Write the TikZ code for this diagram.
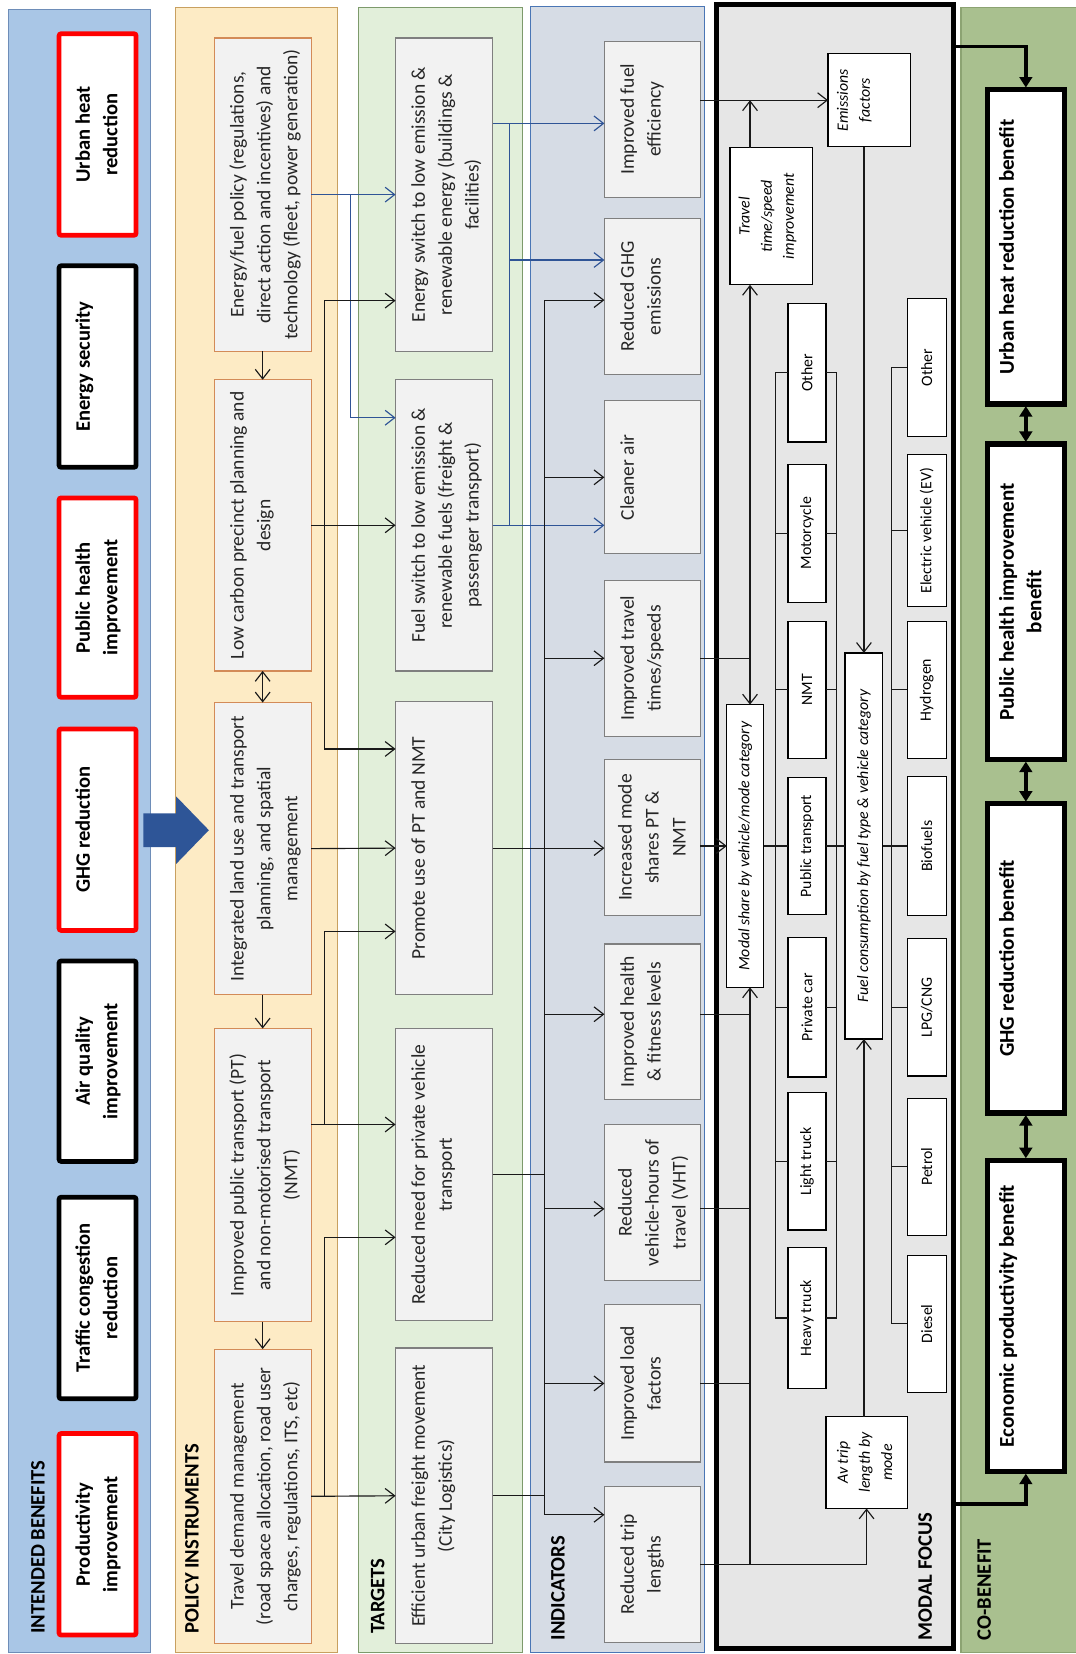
\documentclass[tikz,border=0pt]{standalone}
\usepackage{fontspec}
\setmainfont{Carlito}
\usepackage{graphicx}
\usetikzlibrary{arrows.meta,calc}
\definecolor{bandB}{HTML}{A9C6E6}
\definecolor{bandBd}{HTML}{6E8DB8}
\definecolor{bandP}{HTML}{FDEBC5}
\definecolor{bandPd}{HTML}{C8A060}
\definecolor{bandT}{HTML}{E2EFDA}
\definecolor{bandTd}{HTML}{7D9A6B}
\definecolor{bandI}{HTML}{D6DCE5}
\definecolor{bandId}{HTML}{4A76B5}
\definecolor{bandM}{HTML}{E6E6E6}
\definecolor{bandC}{HTML}{A9C08F}
\definecolor{bandCd}{HTML}{8CA372}
\definecolor{boxfill}{HTML}{F2F2F2}
\definecolor{pbord}{HTML}{D38B58}
\definecolor{gbord}{HTML}{7F7F7F}
\definecolor{redb}{HTML}{FF0000}
\definecolor{bluln}{HTML}{2F5496}
\definecolor{bigblue}{HTML}{2E5597}
\definecolor{txt}{HTML}{262626}
\newcommand{\vtx}[5]{\rotatebox{90}{\begin{minipage}[c][#1][t]{#2}#5\centering\vspace*{#3}\strut#4\par\end{minipage}}}
\newcommand{\vcx}[4]{\rotatebox{90}{\begin{minipage}[c][#1][c]{#2}#4\centering#3\par\end{minipage}}}
\newcommand{\fntM}{\fontsize{18.5}{25.5}\selectfont\color{txt}}
\newcommand{\fntB}{\fontsize{19.5}{26}\selectfont\bfseries\color{black}}
\newcommand{\fntC}{\fontsize{20}{26}\selectfont\bfseries\color{black}}
\newcommand{\fntI}{\fontsize{15}{21}\selectfont\itshape\color{black}}
\newcommand{\fntS}{\fontsize{15}{18}\selectfont\color{black}}
\newcommand{\fntL}{\fontsize{19.5}{24}\selectfont\bfseries\color{black}}
\tikzset{
  box/.style={inner sep=0pt, outer sep=0pt, draw, line width=1.2pt},
  ibox/.style={box, fill=white, line width=4.5pt, rounded corners=2pt},
  pbox/.style={box, fill=boxfill, draw=pbord},
  gbox/.style={box, fill=boxfill, draw=gbord},
  wbox/.style={box, fill=white, draw=black, line width=1.1pt},
  cbox/.style={box, fill=white, draw=black, line width=5pt},
  lbl/.style={inner sep=0pt, anchor=south},
  arr/.style={draw=black!90, line width=1.1pt, -{Straight Barb[length=9pt,width=14pt]}},
  darr/.style={draw=black!90, line width=1.1pt, {Straight Barb[length=9pt,width=14pt]}-{Straight Barb[length=9pt,width=14pt]}},
  blu/.style={draw=bluln},
  lin/.style={draw=black!90, line width=1.1pt},
  cbarr/.style={line width=3.5pt, -{Triangle[length=10pt,width=12pt]}, shorten >=2pt},
  cbd/.style={line width=3.5pt, {Triangle[length=10pt,width=12pt]}-{Triangle[length=10pt,width=12pt]}, shorten >=2pt, shorten <=2pt},
}
\begin{document}
\begin{tikzpicture}[x=1pt,y=-1pt]
\useasboundingbox (0,0) rectangle (1020,1568);
% bands
\draw[fill=bandB, draw=bandBd, line width=1pt] (8,9) rectangle (143,1567);
\draw[fill=bandP, draw=bandPd, line width=1pt] (166,7) rectangle (320,1567);
\draw[fill=bandT, draw=bandTd, line width=1pt] (340,7) rectangle (495,1567);
\draw[fill=bandI, draw=bandId, line width=1pt] (503,6) rectangle (668,1567);
\draw[fill=bandM, draw=black, line width=4.5pt] (679,4) rectangle (904,1563);
\draw[fill=bandC, draw=bandCd, line width=1pt] (911,7) rectangle (1022,1567);
% band labels
\node[lbl] (lab1) at (36,1549) {\rotatebox{90}{\fntL INTENDED BENEFITS}};
\node[lbl] (lab2) at (182,1549) {\rotatebox{90}{\fntL POLICY INSTRUMENTS}};
\node[lbl] (lab3) at (358,1549) {\rotatebox{90}{\fntL TARGETS}};
\node[lbl] (lab4) at (529,1555) {\rotatebox{90}{\fntL INDICATORS}};
\node[lbl] (lab5) at (877,1555) {\rotatebox{90}{\fntL MODAL FOCUS}};
\node[lbl] (lab6) at (933,1555) {\rotatebox{90}{\fntL CO-BENEFIT}};
% intended benefits
\node[ibox, draw=redb] (b1) at (92.5,127.5) {\vtx{73pt}{191pt}{11pt}{Urban heat\\reduction}{\fntB}};
\node[ibox, draw=black] (b2) at (92.5,347.5) {\vtx{73pt}{191pt}{11pt}{Energy security}{\fntB}};
\node[ibox, draw=redb] (b3) at (92.5,566.5) {\vtx{73pt}{189pt}{11pt}{Public health\\improvement}{\fntB}};
\node[ibox, draw=redb] (b4) at (92.5,786.5) {\vtx{73pt}{191pt}{11pt}{GHG reduction}{\fntB}};
\node[ibox, draw=black] (b5) at (92.5,1006) {\vtx{73pt}{190pt}{11pt}{Air quality\\improvement}{\fntB}};
\node[ibox, draw=black] (b6) at (92.5,1230.5) {\vtx{73pt}{191pt}{11pt}{Traffic congestion\\reduction}{\fntB}};
\node[ibox, draw=redb] (b7) at (92.5,1454.5) {\vtx{73pt}{191pt}{11pt}{Productivity\\improvement}{\fntB}};
% big arrow
\fill[bigblue] (136,771) -- (167,771) -- (167,755) -- (198,787) -- (167,819) -- (167,803) -- (136,803) -- cycle;
% policy instruments
\node[pbox] (efp) at (249,184.5) {\vtx{92pt}{297pt}{10pt}{Energy/fuel policy (regulations,\\direct action and incentives) and\\technology (fleet, power generation)}{\fntM}};
\node[pbox] (lc) at (249,498) {\vtx{92pt}{276pt}{10pt}{Low carbon precinct planning and\\design}{\fntM}};
\node[pbox] (ilu) at (249,804.5) {\vtx{92pt}{277pt}{10pt}{Integrated land use and transport\\planning, and spatial\\management}{\fntM}};
\node[pbox] (ipt) at (249,1114) {\vtx{92pt}{278pt}{10pt}{Improved public transport (PT)\\and non-motorised transport\\(NMT)}{\fntM}};
\node[pbox] (tdm) at (249,1418.5) {\vtx{92pt}{279pt}{10pt}{Travel demand management\\(road space allocation, road user\\charges, regulations, ITS, etc)}{\fntM}};
% targets
\node[gbox] (es) at (421,184.5) {\vtx{92pt}{297pt}{10pt}{Energy switch to low emission \&\\renewable energy (buildings \&\\facilities)}{\fntM}};
\node[gbox] (fs) at (421,498) {\vtx{92pt}{276pt}{10pt}{Fuel switch to low emission \&\\renewable fuels (freight \&\\passenger transport)}{\fntM}};
\node[gbox] (pr) at (421,804) {\vtx{92pt}{278pt}{10pt}{Promote use of PT and NMT}{\fntM}};
\node[gbox] (rn) at (421,1113.5) {\vtx{92pt}{277pt}{10pt}{Reduced need for private vehicle\\transport}{\fntM}};
\node[gbox] (euf) at (421,1418) {\vtx{92pt}{280pt}{10pt}{Efficient urban freight movement\\(City Logistics)}{\fntM}};
% indicators
\node[gbox] (ife) at (618.5,113) {\vtx{91pt}{148pt}{10pt}{Improved fuel\\efficiency}{\fntM}};
\node[gbox] (rghg) at (618.5,281) {\vtx{91pt}{148pt}{10pt}{Reduced GHG\\emissions}{\fntM}};
\node[gbox] (ca) at (618.5,452.5) {\vtx{91pt}{145pt}{10pt}{Cleaner air}{\fntM}};
\node[gbox] (ite) at (618.5,624) {\vtx{91pt}{148pt}{10pt}{Improved travel\\times/speeds}{\fntM}};
\node[gbox] (imd) at (618.5,794) {\vtx{91pt}{148pt}{8pt}{Increased mode\\shares PT \&\\NMT}{\fntM}};
\node[gbox] (ihf) at (618.5,968.5) {\vtx{91pt}{147pt}{10pt}{Improved health\\\& fitness levels}{\fntM}};
\node[gbox] (vht) at (618.5,1140) {\vtx{91pt}{148pt}{8pt}{Reduced\\vehicle-hours of\\travel (VHT)}{\fntM}};
\node[gbox] (ilf) at (618.5,1311.5) {\vtx{91pt}{149pt}{10pt}{Improved load\\factors}{\fntM}};
\node[gbox] (rtl) at (618.5,1483) {\vtx{91pt}{148pt}{10pt}{Reduced trip\\lengths}{\fntM}};
% modal focus
\node[wbox] (ef) at (824,95) {\vtx{78pt}{88pt}{4pt}{Emissions\\factors}{\fntI}};
\node[wbox] (tt) at (731,205) {\vtx{78pt}{130pt}{4pt}{Travel\\time/speed\\improvement}{\fntI}};
\node[wbox] (ms) at (706.5,802) {\vcx{35pt}{268pt}{Modal share by vehicle/mode category}{\fntI}};
\node[wbox] (fc) at (819,802) {\vcx{36pt}{366pt}{Fuel consumption by fuel type \& vehicle category}{\fntI}};
\node[wbox] (at) at (821.5,1386.5) {\vtx{77pt}{87pt}{6pt}{Av trip\\length by\\mode}{\fntI}};
\node[wbox] (v1) at (765,353.5) {\vcx{36pt}{131pt}{Other}{\fntS}};
\node[wbox] (v2) at (765,505.5) {\vcx{36pt}{131pt}{Motorcycle}{\fntS}};
\node[wbox] (v3) at (765,654) {\vcx{36pt}{130pt}{NMT}{\fntS}};
\node[wbox] (v4) at (765,802) {\vcx{36pt}{130pt}{Public transport}{\fntS}};
\node[wbox] (v5) at (765,955) {\vcx{36pt}{132pt}{Private car}{\fntS}};
\node[wbox] (v6) at (765,1101) {\vcx{36pt}{130pt}{Light truck}{\fntS}};
\node[wbox] (v7) at (765,1249.5) {\vcx{36pt}{133pt}{Heavy truck}{\fntS}};
\node[wbox] (f1) at (878.5,348.5) {\vcx{37pt}{131pt}{Other}{\fntS}};
\node[wbox] (f2) at (878.5,503) {\vcx{37pt}{144pt}{Electric vehicle (EV)}{\fntS}};
\node[wbox] (f3) at (878.5,654) {\vcx{37pt}{130pt}{Hydrogen}{\fntS}};
\node[wbox] (f4) at (878.5,802) {\vcx{37pt}{132pt}{Biofuels}{\fntS}};
\node[wbox] (f5) at (878.5,955) {\vcx{37pt}{130pt}{LPG/CNG}{\fntS}};
\node[wbox] (f6) at (878.5,1106) {\vcx{37pt}{130pt}{Petrol}{\fntS}};
\node[wbox] (f7) at (878.5,1255) {\vcx{37pt}{130pt}{Diesel}{\fntS}};
% co-benefits
\node[cbox] (c1) at (972.5,234) {\vtx{73pt}{298pt}{7pt}{Urban heat reduction benefit}{\fntC}};
\node[cbox] (c2) at (972.5,570.5) {\vtx{73pt}{299pt}{7pt}{Public health improvement\\benefit}{\fntC}};
\node[cbox] (c3) at (972.5,908.5) {\vtx{73pt}{293pt}{7pt}{GHG reduction benefit}{\fntC}};
\node[cbox] (c4) at (972.5,1247.5) {\vtx{73pt}{295pt}{7pt}{Economic productivity benefit}{\fntC}};
% junction columns
\coordinate (xA) at (332,0);
\coordinate (xB) at (308,0);
\coordinate (xD) at (483,0);
\coordinate (xE) at (516,0);
\coordinate (xF) at (711,0);
\coordinate (xG) at (735,0);
\coordinate (xH) at (793,0);
\coordinate (xI) at (845,0);
\coordinate (p1) at ([yshift=-100.5pt]es.west);
\coordinate (p2) at ([yshift=94pt]pr.west);
\coordinate (p3) at ([yshift=-79pt]pr.west);
\coordinate (p4) at ([yshift=48pt]ipt.east);
\coordinate (p5) at ([yshift=-59.5pt]rn.west);
\coordinate (p6) at ([yshift=102pt]fs.west);
\coordinate (q1) at ([yshift=67.5pt]es.east);
\coordinate (q2) at ([yshift=34.5pt]rghg.west);
\coordinate (q3) at ([yshift=-3.5pt]rghg.west);
\coordinate (q4) at ([yshift=7pt]ihf.west);
\coordinate (q5) at ([yshift=-6pt]vht.west);
\coordinate (q6) at ([yshift=47pt]rtl.west);
% policy internal
\draw[arr] (efp.south) -- (lc.north);
\draw[darr] (lc.south) -- (ilu.north);
\draw[arr] (ilu.south) -- (ipt.north);
\draw[arr] (ipt.south) -- (tdm.north);
% policy -> targets
\draw[arr, blu] (efp.east) -- (es.west);
\draw[arr, blu] (efp.east -| xA) |- (p6);
\draw[arr] (lc.east) -- (fs.west);
\draw[arr] (lc.east -| xB) |- (p1);
\draw[arr] (lc.east -| xB) |- (p2);
\draw[arr] (ilu.east) -- (pr.west);
\draw[arr] (p4) -- (p4 -| rn.west);
\draw[arr] (p4 -| xB) |- (p3);
\draw[arr] (tdm.east) -- (euf.west);
\draw[arr] (tdm.east -| xB) |- (p5);
% targets -> indicators
\draw[arr, blu] (q1) -- (q1 -| ife.west);
\draw[lin, blu] (q1 -| xD) -- (fs.east -| xD);
\draw[arr, blu] (fs.east) -- (fs.east -| ca.west);
\draw[arr, blu] (q2 -| xD) -- (q2);
\draw[lin] (q3 -| xE) -- (q6 -| xE);
\draw[arr] (q3 -| xE) -- (q3);
\draw[arr] (ca.west -| xE) -- (ca.west);
\draw[arr] (ite.west -| xE) -- (ite.west);
\draw[arr] (pr.east) -- (pr.east -| imd.west);
\draw[arr] (q4 -| xE) -- (q4);
\draw[arr] (q5 -| xE) -- (q5);
\draw[arr] (ilf.west -| xE) -- (ilf.west);
\draw[arr] (q6 -| xE) -- (q6);
\draw[lin] (rn.east) -- (rn.east -| xE);
\draw[lin] (euf.east) -- (euf.east -| xE);
% indicators -> modal focus
\draw[arr] (ef.west -| ife.east) -- (ef.west);
\draw[arr] (tt.north -| xF) -- (ef.west -| xF);
\draw[arr] (ite.east -| xF) -- (tt.south -| xF);
\draw[arr] (ite.east) -| (ms.north -| xF);
\draw[arr] (ms.west -| imd.east) -- (ms.west);
\draw[lin] (q4 -| ihf.east) -- (q4 -| xF);
\draw[lin] (q5 -| vht.east) -- (q5 -| xF);
\draw[lin] (ilf.east) -- (ilf.east -| xF);
\draw[arr] (rtl.east) -| (ms.south -| xF);
\draw[arr] (rtl.east) -| (at.south);
\draw[arr] (ef.south -| fc.north) -- (fc.north);
\draw[arr] (at.north -| fc.south) -- (fc.south);
% brackets
\draw[lin] (v1.west -| xG) -- (v7.west -| xG);
\draw[lin] (v1.east -| xH) -- (v7.east -| xH);
\draw[lin] (f1.west -| xI) -- (f7.west -| xI);
\foreach \i in {1,...,7}{
  \draw[lin] (v\i.west -| xG) -- (v\i.west);
  \draw[lin] (v\i.east) -- (v\i.east -| xH);
  \draw[lin] (f\i.west -| xI) -- (f\i.west);
}
\draw[lin] (ms.east) -- (v4.west);
\draw[lin] (v4.east) -- (fc.west);
\draw[lin] (fc.east) -- (f4.west);
% co-benefit arrows
\coordinate (t1) at (904,44);
\coordinate (t2) at (904,1426);
\draw[cbarr] (t1) -| (c1.north);
\draw[cbarr] (t2) -| (c4.south);
\draw[cbd] (c1.south) -- (c2.north);
\draw[cbd] (c2.south) -- (c3.north);
\draw[cbd] (c3.south) -- (c4.north);
\end{tikzpicture}
\end{document}
